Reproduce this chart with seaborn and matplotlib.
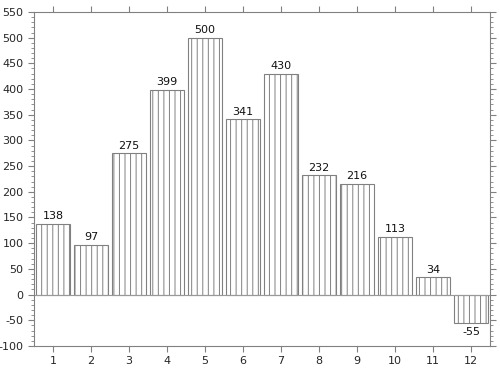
import matplotlib
matplotlib.use("Agg")
import matplotlib.pyplot as plt
import seaborn as sns
import pandas as pd
from matplotlib.ticker import MultipleLocator

categories = ["1", "2", "3", "4", "5", "6", "7", "8", "9", "10", "11", "12"]
values = [138, 97, 275, 399, 500, 341, 430, 232, 216, 113, 34, -55]

df = pd.DataFrame({"cat": categories, "val": values})

sns.set_style("white")
plt.rcParams["font.family"] = ["DejaVu Sans"]
plt.rcParams["axes.unicode_minus"] = False
plt.rcParams["hatch.linewidth"] = 0.7
plt.rcParams["hatch.color"] = "#8c8c8c"

fig = plt.figure(figsize=(5, 3.74), dpi=100)
ax = fig.add_axes([0.068, 0.075, 0.912, 0.893])

sns.barplot(data=df, x="cat", y="val", ax=ax, color="white", width=0.9,
            edgecolor="#808080", linewidth=0.8, hatch="|||", saturation=1)

for i, v in enumerate(values):
    if v >= 0:
        ax.text(i, v + 5, str(v), ha="center", va="bottom", fontsize=8, color="#111111")
    else:
        ax.text(i, v - 8, str(v), ha="center", va="top", fontsize=8, color="#111111")

ax.set_xlim(-0.5, 11.5)
ax.set_ylim(-100, 550)
ax.yaxis.set_major_locator(MultipleLocator(50))
ax.yaxis.set_minor_locator(MultipleLocator(10))
ax.axhline(0, color="#999999", lw=0.8)
ax.set_xlabel("")
ax.set_ylabel("")

for s in ax.spines.values():
    s.set_color("#808080")
    s.set_linewidth(0.8)

ax.tick_params(axis="both", which="major", direction="out", length=4, color="#808080",
               labelsize=8, top=True, right=True, left=True, bottom=True,
               labeltop=False, labelright=False)
ax.tick_params(axis="y", which="minor", direction="out", length=2, color="#808080",
               left=True, right=True)

fig.savefig("out.png", dpi=100)
